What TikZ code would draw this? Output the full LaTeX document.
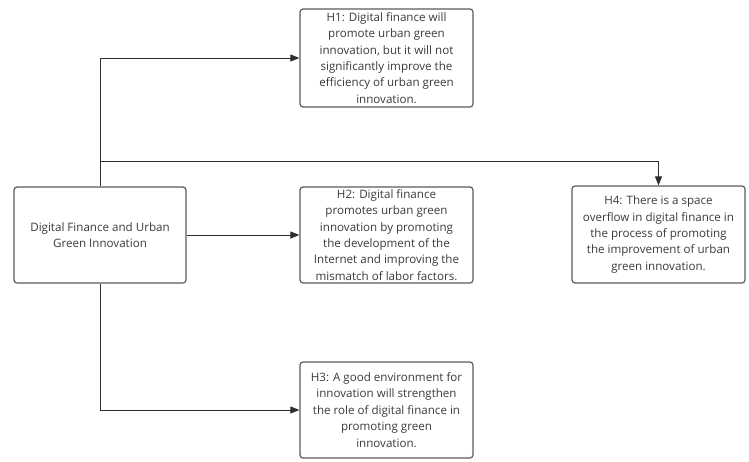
\documentclass[tikz,border=0pt]{standalone}
\usepackage{fontspec}
\setmainfont{Open Sans}
\usetikzlibrary{arrows.meta}
\definecolor{boxline}{HTML}{5A5A5A}
\definecolor{txt}{HTML}{3A3A3A}
\definecolor{wire}{HTML}{2E2E2E}
\begin{document}
\begin{tikzpicture}[x=1pt,y=-1pt,
  hbox/.style={draw=boxline,line width=1.2pt,rounded corners=3pt,align=center,
    text=txt,font=\fontsize{11.6}{16.4}\selectfont,inner sep=0pt},
  conn/.style={draw=wire,line width=1pt,-{Triangle[length=9pt,width=7pt]}},
  plain/.style={draw=wire,line width=1pt}]
\useasboundingbox (0,0) rectangle (749,461);
\node[hbox,minimum width=172pt,minimum height=96pt] (main) at (100,235) {Digital Finance and Urban\\Green Innovation};
\node[hbox,minimum width=173pt,minimum height=98pt] (h1) at (386.5,58) {H1: Digital finance will\\promote urban green\\innovation, but it will not\\significantly improve the\\efficiency of urban green\\innovation.};
\node[hbox,minimum width=173pt,minimum height=96pt] (h2) at (386.5,235) {H2: Digital finance\\promotes urban green\\innovation by promoting\\the development of the\\Internet and improving the\\mismatch of labor factors.};
\node[hbox,minimum width=173pt,minimum height=96pt] (h3) at (386.5,410) {H3: A good environment for\\innovation will strengthen\\the role of digital finance in\\promoting green\\innovation.};
\node[hbox,minimum width=173pt,minimum height=97pt] (h4) at (658.5,234.5) {H4: There is a space\\overflow in digital finance in\\the process of promoting\\the improvement of urban\\green innovation.};
\coordinate (j) at (100,161);
\draw[plain] (main.north) -- (j);
\draw[conn] (j) |- (h1.west);
\draw[conn] (j) -| (h4.north);
\draw[conn] (main.east) -- (h2.west);
\draw[conn] (main.south) |- (h3.west);
\end{tikzpicture}
\end{document}
